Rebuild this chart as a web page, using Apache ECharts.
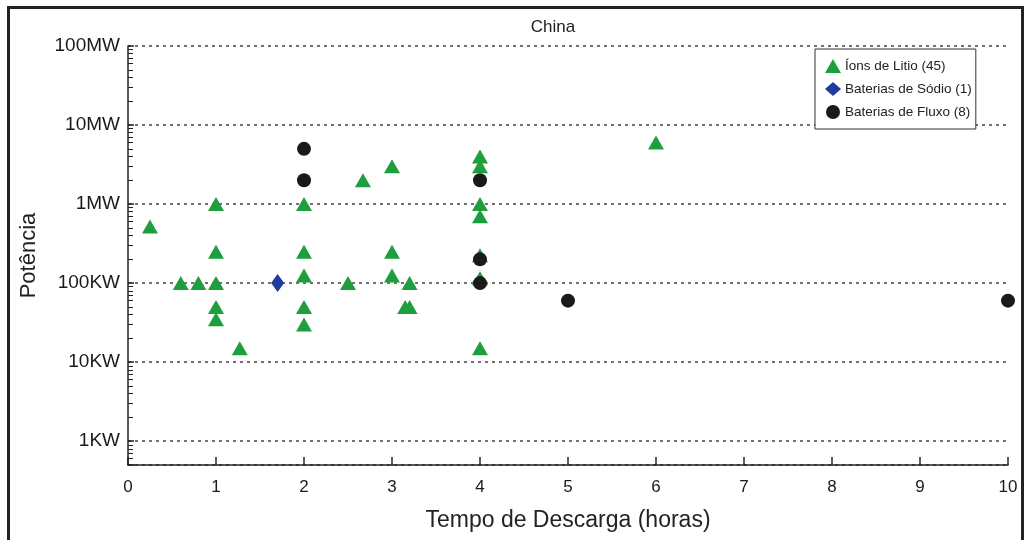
<!DOCTYPE html>
<html>
<head>
<meta charset="utf-8">
<script src="https://cdn.jsdelivr.net/npm/echarts@6/dist/echarts.min.js"></script>
<style>
html,body{margin:0;padding:0;background:#fff;}
#chart{width:1029px;height:540px;}
</style>
</head>
<body>
<div id="chart"></div>
<script>
// Discharge time (hours) and power (kW)
var liIonHours = [0.25, 0.6, 0.8, 1, 1, 1, 1, 1, 1.27, 2, 2, 2, 2, 2, 2.5, 2.67, 3, 3, 3, 3.2, 3.15, 3.2, 4, 4, 4, 4, 4, 4, 4, 6];
var liIonKW    = [520, 100, 100, 1000, 250, 100, 50, 35, 15, 1000, 250, 125, 50, 30, 100, 2000, 3000, 250, 125, 100, 50, 50, 4000, 3000, 1000, 700, 225, 115, 15, 6000];
var sodiumHours = [1.7];
var sodiumKW    = [100];
var flowHours = [2, 2, 4, 4, 4, 5, 10];
var flowKW    = [5000, 2000, 2000, 200, 100, 60, 60];

var seriesNames = ['Íons de Litio (45)', 'Baterias de Sódio (1)', 'Baterias de Fluxo (8)'];
var yTickLabels = ['1KW', '10KW', '100KW', '1MW', '10MW', '100MW'];
var xTickLabels = ['0','1','2','3','4','5','6','7','8','9','10'];

function pairs(xs, ys){ return xs.map(function(x,i){ return [x, ys[i]]; }); }

var FONT = "'Liberation Sans', Arial, sans-serif";
var chart = echarts.init(document.getElementById('chart'));
chart.setOption({
  backgroundColor: '#fff',
  animation: false,
  graphic: [{
    type: 'rect', left: 6, top: 5, silent: true,
    shape: { width: 1014, height: 560 },
    style: { fill: 'none', stroke: '#222', lineWidth: 3 }
  }],
  title: {
    text: 'China', left: 548, top: 14, textAlign: 'center',
    textStyle: { fontFamily: FONT, fontSize: 17, fontWeight: 'normal', color: '#222' }
  },
  grid: { left: 128, right: 21, top: 46, bottom: 75, containLabel: false },
  legend: {
    orient: 'vertical', left: 815, top: 49,
    padding: [10, 4, 10, 10], itemGap: 9, itemWidth: 16, itemHeight: 14,
    borderColor: '#333', borderWidth: 1, backgroundColor: '#fff',
    textStyle: { fontFamily: FONT, fontSize: 13.5, color: '#222', padding: [0,0,0,-1] },
    data: seriesNames
  },
  xAxis: {
    type: 'value', min: 0, max: 10, interval: 1,
    name: 'Tempo de Descarga (horas)', nameLocation: 'middle', nameGap: 44,
    nameTextStyle: { fontFamily: FONT, fontSize: 23, color: '#222' },
    axisLine: { show: true, lineStyle: { color: '#222', width: 1.5 } },
    axisTick: { show: true, inside: true, length: 8, lineStyle: { color: '#222', width: 1.5 } },
    axisLabel: { margin: 14, fontFamily: FONT, fontSize: 17, color: '#1a1a1a',
      formatter: function(v){ return xTickLabels[Math.round(v)] || ''; } },
    splitLine: { show: false }
  },
  yAxis: {
    type: 'log', logBase: 10, min: 0.5, max: 100000,
    name: 'Potência', nameLocation: 'middle', nameGap: 88, nameRotate: 90,
    nameTextStyle: { fontFamily: FONT, fontSize: 22, color: '#222' },
    axisLine: { show: true, lineStyle: { color: '#222', width: 1.5 } },
    axisTick: { show: true, inside: true, length: 6, lineStyle: { color: '#222', width: 1.5 } },
    minorTick: { show: true, splitNumber: 9, length: 5, lineStyle: { color: '#222', width: 1 } },
    axisLabel: { margin: 8, fontFamily: FONT, fontSize: 19, color: '#1a1a1a',
      formatter: function(v){
        var e = Math.log10(v);
        if (Math.abs(e - Math.round(e)) > 1e-6) return '';
        return yTickLabels[Math.round(e)] || '';
      } },
    splitLine: { show: true, lineStyle: { color: '#444', width: 1.5, type: [3, 4] } }
  },
  series: [
    { name: seriesNames[0], type: 'scatter', symbol: 'triangle', symbolSize: [16, 14],
      itemStyle: { color: '#1e9e3c', opacity: 1 }, data: pairs(liIonHours, liIonKW) },
    { name: seriesNames[1], type: 'scatter', symbol: 'diamond', symbolSize: [13, 18],
      itemStyle: { color: '#1f3b9c', opacity: 1 }, data: pairs(sodiumHours, sodiumKW) },
    { name: seriesNames[2], type: 'scatter', symbol: 'circle', symbolSize: 14,
      itemStyle: { color: '#1a1a1a', opacity: 1 }, data: pairs(flowHours, flowKW) }
  ]
});
</script>
</body>
</html>
